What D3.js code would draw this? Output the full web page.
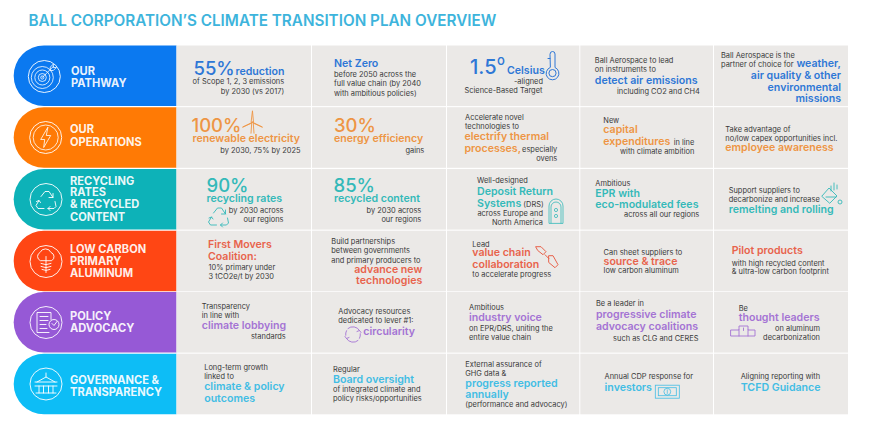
<!DOCTYPE html>
<html>
<head>
<meta charset="utf-8">
<script src="https://cdn.jsdelivr.net/npm/d3@7"></script>
<style>
html, body { margin: 0; background: #fff; }
text { font-family: Inter, "Noto Sans", sans-serif; }
</style>
</head>
<body>
<div id="chart"></div>
<script>
const titleText = "BALL CORPORATION\u2019S CLIMATE TRANSITION PLAN OVERVIEW";

const rowNames = ["pathway", "operations", "recycling", "aluminum", "policy", "governance"];
const rowLabels = [
  ["OUR", "PATHWAY"],
  ["OUR", "OPERATIONS"],
  ["RECYCLING", "RATES", "& RECYCLED", "CONTENT"],
  ["LOW CARBON", "PRIMARY", "ALUMINUM"],
  ["POLICY", "ADVOCACY"],
  ["GOVERNANCE &", "TRANSPARENCY"]
];

const pathwayText = [
  ["55%", "reduction", "of Scope 1, 2, 3 emissions", "by 2030 (vs 2017)"],
  ["Net Zero", "before 2050 across the", "full value chain (by 2040", "with ambitious policies)"],
  ["1.5", "o", "Celsius", "-aligned", "Science-Based Target"],
  ["Ball Aerospace to lead", "on instruments to", "detect air emissions", "including CO2 and CH4"],
  ["Ball Aerospace is the", "partner of choice for", "weather,", "air quality & other", "environmental", "missions"]
];
const operationsText = [
  ["100%", "renewable electricity", "by 2030, 75% by 2025"],
  ["30%", "energy efficiency", "gains"],
  ["Accelerate novel", "technologies to", "electrify thermal", "processes,", "especially", "ovens"],
  ["New", "capital", "expenditures", "in line", "with climate ambition"],
  ["Take advantage of", "no/low capex opportunities incl.", "employee awareness"]
];
const recyclingText = [
  ["90%", "recycling rates", "by 2030 across", "our regions"],
  ["85%", "recycled content", "by 2030 across", "our regions"],
  ["Well-designed", "Deposit Return", "Systems", "(DRS)", "across Europe and", "North America"],
  ["Ambitious", "EPR with", "eco-modulated fees", "across all our regions"],
  ["Support suppliers to", "decarbonize and increase", "remelting and rolling"]
];
const aluminumText = [
  ["First Movers", "Coalition:", "10% primary under", "3 tCO2e/t by 2030"],
  ["Build partnerships", "between governments", "and primary producers to", "advance new", "technologies"],
  ["Lead", "value chain", "collaboration", "to accelerate progress"],
  ["Can sheet suppliers to", "source & trace", "low carbon aluminum"],
  ["Pilot products", "with high recycled content", "& ultra-low carbon footprint"]
];
const policyText = [
  ["Transparency", "in line with", "climate lobbying", "standards"],
  ["Advocacy resources", "dedicated to lever #1:", "circularity"],
  ["Ambitious", "industry voice", "on EPR/DRS, uniting the", "entire value chain"],
  ["Be a leader in", "progressive climate", "advocacy coalitions", "such as CLG and CERES"],
  ["Be", "thought leaders", "on aluminum", "decarbonization"]
];
const governanceText = [
  ["Long-term growth", "linked to", "climate & policy", "outcomes"],
  ["Regular", "Board oversight", "of integrated climate and", "policy risks/opportunities"],
  ["External assurance of", "GHG data &", "progress reported", "annually", "(performance and advocacy)"],
  ["Annual CDP response for", "investors"],
  ["Aligning reporting with", "TCFD Guidance"]
];
const cellText = [pathwayText, operationsText, recyclingText, aluminumText, policyText, governanceText];

// layout below, kept apart from the text: [dx, dy, kind, anchor]
const E = "end";
const cellLayout = [
  [
    [[17, 29, "n"], [59, 29, "h"], [107.7, 38.5, "b", E], [107.7, 48, "b", E]],
    [[22, 21.5, "h"], [22, 31.5, "b"], [22, 40.5, "b"], [22, 50, "b"]],
    [[23, 28.5, "N"], [50, 19.5, "o"], [60, 28, "h"], [96, 38.5, "b", E], [17.5, 47, "b"]],
    [[14.5, 17.5, "b"], [14.5, 26.5, "b"], [14.5, 38, "h"], [119.5, 48, "b", E]],
    [[7, 12, "b"], [7, 21, "b"], [127, 21.5, "h", E], [127, 33, "h", E], [127, 45, "h", E], [127, 56.5, "h", E]]
  ],
  [
    [[15, 24.5, "n"], [16, 35, "h"], [124, 45.5, "b", E]],
    [[22, 24.5, "n"], [22, 35, "h"], [112.3, 45.5, "b", E]],
    [[18, 13, "b"], [18, 22, "b"], [17.5, 33, "h"], [17.5, 45, "h"], [110.3, 45, "b", E], [110.3, 54, "b", E]],
    [[23, 16, "b"], [23, 26, "h"], [23, 37.5, "h"], [114, 37.5, "b", E], [114, 46.5, "b", E]],
    [[11.3, 25, "b"], [11.3, 34, "b"], [11.3, 44, "h"]]
  ],
  [
    [[30, 22.7, "n"], [30, 32.7, "h"], [107, 43.7, "b", E], [107, 53, "b", E]],
    [[21.5, 22.7, "n"], [22, 32.7, "h"], [109.3, 43.7, "b", E], [109.3, 53, "b", E]],
    [[30, 14.3, "b"], [30, 26, "h"], [30, 38.3, "h"], [76.3, 37.7, "b"], [96, 47, "b", E], [96, 56.3, "b", E]],
    [[15, 16.7, "b"], [15, 27.7, "h"], [15, 39.3, "h"], [119, 48.3, "b", E]],
    [[14.7, 24, "b"], [14.7, 33, "b"], [14.7, 43.7, "h"]]
  ],
  [
    [[31.5, 17.3, "h"], [31.5, 29, "h"], [32, 39, "b"], [32, 48.3, "b"]],
    [[19.3, 13.6, "b"], [19.3, 22.6, "b"], [19.3, 32, "b"], [110.3, 42, "h", E], [110.3, 53, "h", E]],
    [[25.3, 16, "b"], [25.3, 25.3, "h"], [25.3, 37, "h"], [25.3, 46.3, "b"]],
    [[23.3, 24.6, "b"], [23.3, 34.3, "h"], [23.3, 42.6, "b"]],
    [[17.7, 23.6, "h"], [17.7, 35, "b"], [17.7, 43.6, "b"]]
  ],
  [
    [[25.3, 16.7, "b"], [25.3, 25.7, "b"], [25.3, 36.7, "h"], [109.3, 47, "b", E]],
    [[26.3, 22, "b"], [26.3, 31, "b"], [51.3, 42.7, "h"]],
    [[22, 18, "b"], [22, 29, "h"], [22, 39, "b"], [22, 48, "b"]],
    [[15.7, 14.3, "b"], [15.7, 26, "h"], [15.7, 37.7, "h"], [118.3, 48.7, "b", E]],
    [[24.7, 18.7, "b"], [24.7, 29, "h"], [106, 39, "b", E], [106, 48.3, "b", E]]
  ],
  [
    [[27.7, 16, "b"], [27.7, 25, "b"], [27.7, 36.3, "h"], [27.7, 48.3, "h"]],
    [[21, 18, "b"], [21, 29.3, "h"], [21, 38, "b"], [21, 47.3, "b"]],
    [[18.3, 13.6, "b"], [18.3, 22.6, "b"], [18.3, 33.3, "h"], [18.3, 44.6, "h"], [18.3, 53, "b"]],
    [[24.3, 25.6, "b"], [24.3, 37.3, "h"]],
    [[26.7, 25.6, "b"], [26.7, 37.3, "h"]]
  ]
];

const kinds = {
  b: { size: 7.45, weight: 400 },
  h: { size: 10.6, weight: 600 },
  n: { size: 18.5, weight: 500 },
  N: { size: 20, weight: 500 },
  o: { size: 13, weight: 500 }
};

const bandColor = d3.scaleOrdinal(rowNames, ["#0b79f0", "#ff7a05", "#0db2b8", "#ff4614", "#9659d6", "#0dbdf6"]);
const textColor = d3.scaleOrdinal(rowNames, ["#2e77d6", "#ee9544", "#34b9b9", "#e8634c", "#a473d4", "#42bde4"]);
const rowTop = d3.scaleOrdinal(rowNames, [45.5, 107.2, 169, 230.7, 292, 353.7]);
const rowHeight = 60.6;
const colLeft = d3.scaleOrdinal(d3.range(5), [176.5, 312, 447, 580.3, 714]);
const colRight = d3.scaleOrdinal(d3.range(5), [311, 446, 579.3, 713, 848]);
const pillLeft = 14, pillRight = 176.5, pillRadius = 30;

const svg = d3.select("#chart").append("svg")
  .attr("width", 876).attr("height", 433)
  .style("display", "block");

svg.append("text")
  .attr("x", 28.5).attr("y", 25.7)
  .attr("font-size", 15.25).attr("font-weight", 600)
  .attr("fill", "#3db4dc")
  .text(titleText);

// pills on the left
const pills = svg.selectAll("g.pill").data(rowNames).join("g").attr("class", "pill");
pills.append("path")
  .attr("fill", d => bandColor(d))
  .attr("d", d => {
    const t = rowTop(d), b = t + rowHeight;
    const p = d3.path();
    p.moveTo(pillRight, t);
    p.lineTo(pillLeft + pillRadius, t);
    p.arc(pillLeft + pillRadius, t + rowHeight / 2, rowHeight / 2, -Math.PI / 2, Math.PI / 2, true);
    p.lineTo(pillRight, b);
    p.closePath();
    return p.toString();
  });

const labelX = [71, 70, 70, 70, 70, 70];
const labelDy = [
  [29.2, 41.2],
  [26.1, 38.5],
  [15.7, 27.3, 39.3, 51.7],
  [22.6, 34.6, 46.6],
  [28.3, 40.3],
  [30.3, 42.3]
];
pills.each(function (d, i) {
  d3.select(this).selectAll("text").data(rowLabels[i]).join("text")
    .attr("x", labelX[i])
    .attr("y", (l, j) => rowTop(d) + labelDy[i][j])
    .attr("font-size", 11.1).attr("font-weight", 700)
    .attr("fill", "#fff")
    .attr("fill-opacity", 0.93)
    .text(l => l);
});

// cells
rowNames.forEach((row, r) => {
  d3.range(5).forEach(c => {
    const g = svg.append("g").attr("transform", `translate(${colLeft(c)},${rowTop(row)})`);
    g.append("rect")
      .attr("width", colRight(c) - colLeft(c))
      .attr("height", rowHeight)
      .attr("fill", "#ebe9e7");
    g.selectAll("text").data(cellText[r][c]).join("text")
      .attr("x", (t, i) => cellLayout[r][c][i][0])
      .attr("y", (t, i) => cellLayout[r][c][i][1])
      .attr("text-anchor", (t, i) => cellLayout[r][c][i][3] || "start")
      .attr("font-size", (t, i) => kinds[cellLayout[r][c][i][2]].size)
      .attr("font-weight", (t, i) => kinds[cellLayout[r][c][i][2]].weight)
      .attr("fill", (t, i) => cellLayout[r][c][i][2] === "b" ? "#3a3a3a" : textColor(row))
      .text(t => t);
  });
});

// small line icons, local coords
function line(g, d, w) {
  g.append("path").attr("d", d).attr("fill", "none").attr("stroke", "currentColor")
    .attr("stroke-width", w || 0.8).attr("stroke-linejoin", "round").attr("stroke-linecap", "round");
}
function ring(g, x, y, r, w) {
  g.append("circle").attr("cx", x).attr("cy", y).attr("r", r)
    .attr("fill", "none").attr("stroke", "currentColor").attr("stroke-width", w || 0.8);
}
function box(g, x, y, w, h, rx) {
  g.append("rect").attr("x", x).attr("y", y).attr("width", w).attr("height", h).attr("rx", rx || 0)
    .attr("fill", "none").attr("stroke", "currentColor").attr("stroke-width", 0.8);
}
const recycleArrows = "M-5 -3 L-1 -8 L3 -8 L7 -2 M7 -6 L7 -2 L3 -2 M9 2 L10 7 L8 9 L2 9 M4 7 L2 9 L4 11 M-2 9 L-8 9 L-10 6 L-7 1 M-9.5 2 L-7 1 L-5.5 3";

const rowIcons = [
  g => { ring(g, -2, 1, 11); ring(g, -2, 1, 7.5); ring(g, -2, 1, 4); ring(g, -2, 1, 1.6); line(g, "M-2 1 L9 -10 M6 -9 L6 -6 L9 -6 L12 -9 L9 -9 L9 -12 Z"); },
  g => { ring(g, 0, 0, 12.5); line(g, "M2 -10 L-5 2 L-1 2 L-2 10 L5 -2 L1 -2 Z"); },
  g => { line(g, recycleArrows, 0.9); },
  g => { line(g, "M-6 -1 A4.5 4.5 0 0 1 -6 -9 A6 6 0 0 1 5 -9 A4.5 4.5 0 0 1 6 -1 Z M-5 2 Q0 4.5 5 2 M-5 5 Q0 7.5 5 5 M-4 8 Q0 10 4 8 M0 -5 L0 11", 0.9); },
  g => { line(g, "M5 -3 L5 -10 L-9 -10 L-9 10 L3 10 M-6 -6 L2 -6 M-6 -2 L2 -2 M-6 2 L0 2 M-6 6 L1 6 M6 1 L8 3 L11 -1", 0.9); ring(g, 8, 2, 5, 0.9); },
  g => { line(g, "M-11 -2 L11 -2 M-9 -2 L0 -7 L9 -2 M0 -7 L0 -11 M-10 9 L10 9 M-11 2 L11 2 M-7 2 L-7 9 M-2.5 2 L-2.5 9 M2.5 2 L2.5 9 M7 2 L7 9", 0.9); }
];
const rowIconX = [44.3, 45.7, 46, 46, 46, 46];
const rowIconDy = [31, 30.3, 30.5, 30.8, 30.5, 30.3];
pills.each(function (d, i) {
  const g = d3.select(this).append("g")
    .attr("transform", `translate(${rowIconX[i]},${rowTop(d) + rowIconDy[i]})`)
    .attr("color", "#fff");
  ring(g, 0, 0, 16, 0.9);
  rowIcons[i](g);
});

// [row, col, dx, dy, draw]
const cellIcons = [
  ["pathway", 2, 105.5, 24, g => { line(g, "M-2.5 -15.5 A2.5 2.5 0 0 1 2.5 -15.5 L2.5 -2 A6.4 6.4 0 1 1 -2.5 -2 Z M-4.5 -11 L-2.5 -11", 1); ring(g, 0, 3.6, 3.6, 1); }],
  ["operations", 0, 76, 15, g => { line(g, "M0 -11 L1 0 L-1 0 Z M0 0 L10 5 L1 1 M0 0 L-10 5 L-1 1 M-0.8 1 L-1.5 11 M0.8 1 L1.5 11", 0.9); }],
  ["recycling", 0, 42, 47, g => { line(g, recycleArrows, 0.9); }],
  ["recycling", 2, 109, 42, g => { line(g, "M-7 12 L-7 -5 A7 7 0 0 1 7 -5 L7 12 Z M-5 12 L-5 -4 A5 5 0 0 1 5 -4 L5 12", 0.8); ring(g, 0, -1, 1.6); ring(g, 0, 5, 1.6); }],
  ["recycling", 4, 117, 25, g => { line(g, "M-9 2 L-2 -6 L6 2 L-1 9 Z M-5 3 L5 3 M0 -8 L0 -3 M3 -11 L3 -4 M6 -9 L6 -5", 0.9); ring(g, 9, 8, 2, 0.9); }],
  ["aluminum", 2, 100, 26, g => { line(g, "M-11 -10 L-6 -10 L-1 -5 L-4 -2 L-9 -6 Z M-2 -2 L2 2 M2 -1 L6 -1 L11 8 L8 11 L2 6 Z", 1); }],
  ["policy", 1, 41, 42.5, g => { line(g, "M-5 -6 A7.5 7.5 0 0 1 6.5 -4 M8 -2 L6.5 -4 L4 -3 M5 6 A7.5 7.5 0 0 1 -6.5 4 M-8 2 L-6.5 4 L-4 3 M-7.3 0.8 A7.5 7.5 0 0 1 -6.5 -3.8 M7.3 -0.8 A7.5 7.5 0 0 1 6.5 3.8", 0.9); }],
  ["policy", 4, 29, 39, g => { line(g, "M-12 -1 L-4 -1 L-4 -5 L5 -5 L5 -1 L12 -1 L12 5 L-12 5 Z M-4 -1 L-4 5 M5 -1 L5 5 M0.5 -3 L0.5 -0.5", 0.9); }],
  ["governance", 3, 87, 38, g => { box(g, -12, -6.5, 24, 13); box(g, -9, -4, 18, 8); ring(g, 0, 0, 3.4); line(g, "M0 -1.8 L0 1.8", 0.7); }]
];
cellIcons.forEach(([row, c, dx, dy, draw]) => {
  const g = svg.append("g")
    .attr("transform", `translate(${colLeft(c) + dx},${rowTop(row) + dy})`)
    .attr("color", textColor(row));
  draw(g);
});
</script>
</body>
</html>
